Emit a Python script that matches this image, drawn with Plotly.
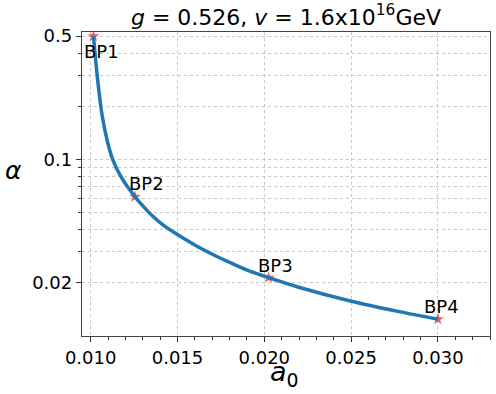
import plotly.graph_objects as go
import numpy as np

# curve
curve_a0 = [0.01016, 0.01030, 0.01046, 0.01066, 0.01097, 0.01127, 0.01176, 0.01255,
            0.01294, 0.01341, 0.01418, 0.01532, 0.01628, 0.01724, 0.0182, 0.01916,
            0.02025, 0.02203, 0.0249, 0.02777, 0.030]
curve_alpha = [0.5, 0.3548, 0.2512, 0.1778, 0.1259, 0.1, 0.0794, 0.0615,
               0.0555, 0.0495, 0.0425, 0.0359, 0.0316, 0.0283, 0.0256, 0.0233,
               0.0214, 0.01884, 0.01585, 0.01374, 0.01245]

# benchmark points
bp_names = ["BP1", "BP2", "BP3", "BP4"]
bp_a0 = [0.01016, 0.01255, 0.02025, 0.030]
bp_alpha = [0.5, 0.0615, 0.0214, 0.01245]

y_tickvals = [0.5, 0.1, 0.02]
y_ticktext = ["0.5", "0.1", "0.02"]
y_minor = [0.4, 0.3, 0.2, 0.09, 0.08, 0.07, 0.06, 0.05, 0.04, 0.03]

font = "DejaVu Sans"
fig = go.Figure()
fig.add_trace(go.Scatter(x=bp_a0, y=bp_alpha, mode="markers",
                         marker=dict(symbol="star", size=9, color="rgba(230,40,40,0.75)",
                                     line=dict(width=0)),
                         showlegend=False))
fig.add_trace(go.Scatter(x=curve_a0, y=curve_alpha, mode="lines",
                         line=dict(color="#1f77b4", width=3.5, shape="spline", smoothing=0.8),
                         showlegend=False))

label_shifts = [(8, -15), (12, 13), (7, 12), (4, 13)]
for name, xv, yv, (dx, dy) in zip(bp_names, bp_a0, bp_alpha, label_shifts):
    fig.add_annotation(x=xv, y=np.log10(yv), text=name, showarrow=False,
                       xshift=dx, yshift=dy, font=dict(family=font, size=18, color="black"))

fig.add_annotation(xref="paper", yref="paper", x=0.4975, y=-0.123,
                   text="<i>a</i><sub>0</sub>", showarrow=False,
                   font=dict(family=font, size=27, color="black"),
                   xanchor="center", yanchor="middle")
fig.add_annotation(xref="paper", yref="paper", x=-0.167, y=0.546,
                   text="<i>α</i>", showarrow=False,
                   font=dict(family=font, size=25, color="black"),
                   xanchor="center", yanchor="middle")

grid = "rgba(176,176,176,0.7)"
fig.update_layout(
    width=496, height=394,
    margin=dict(l=82, r=6, t=32, b=58),
    plot_bgcolor="white", paper_bgcolor="white",
    title=dict(text="<i>g</i> = 0.526, <i>v</i> = 1.6x10<sup>16</sup>GeV",
               x=0.5766, xanchor="center", y=0.957, yanchor="middle",
               font=dict(family=font, size=22, color="black")),
    xaxis=dict(range=[0.0095, 0.033], tick0=0.01, dtick=0.005, tickformat=".3f",
               ticks="outside", ticklen=5, tickcolor="#333",
               showgrid=True, gridcolor=grid, griddash="dot", gridwidth=1,
               showline=True, linecolor="#444", linewidth=1.3, mirror=True,
               zeroline=False,
               tickfont=dict(family=font, size=18, color="black"),
               minor=dict(dtick=0.001, tick0=0.01, ticks="outside", ticklen=3,
                          tickcolor="#333", showgrid=False)),
    yaxis=dict(type="log", range=[-2, np.log10(0.528)],
               tickvals=y_tickvals, ticktext=y_ticktext,
               ticks="outside", ticklen=5, tickcolor="#333",
               showgrid=True, gridcolor=grid, griddash="dot", gridwidth=1,
               showline=True, linecolor="#444", linewidth=1.3, mirror=True,
               zeroline=False,
               tickfont=dict(family=font, size=18, color="black"),
               minor=dict(tickvals=y_minor, ticks="outside", ticklen=3,
                          tickcolor="#333", showgrid=True, gridcolor=grid,
                          griddash="dot", gridwidth=1)),
)
fig.write_html("out.html", config={"displayModeBar": False},
               post_script="document.body.style.margin='0';")
